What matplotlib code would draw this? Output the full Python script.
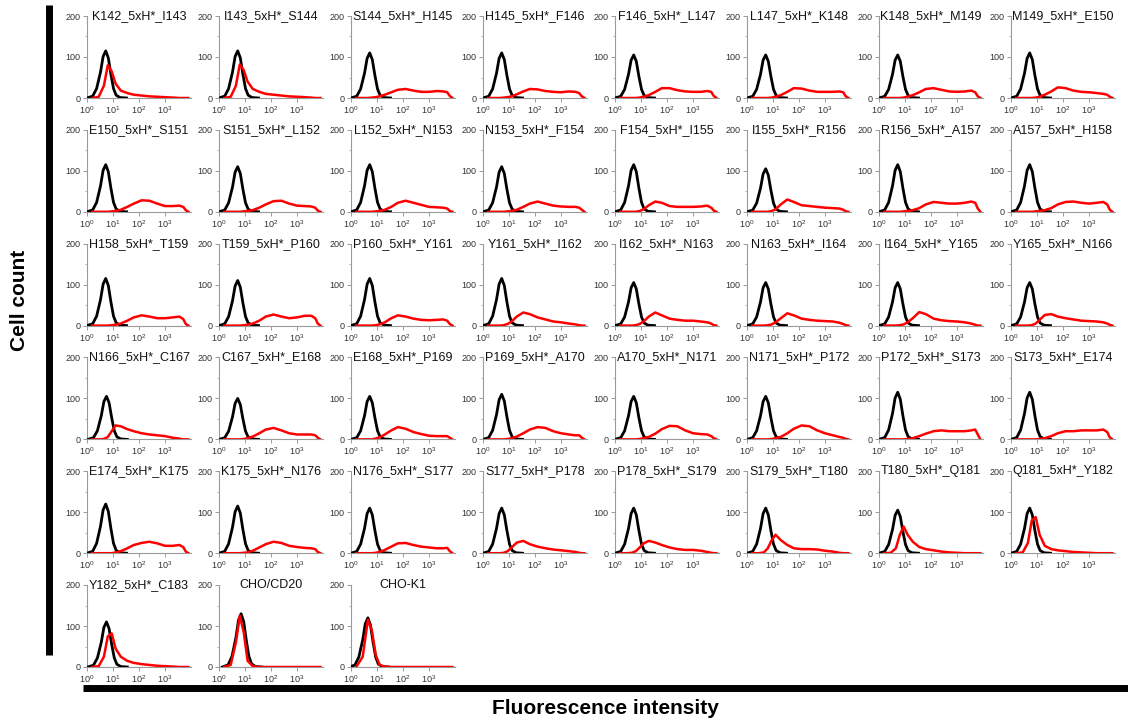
import numpy as np
import matplotlib
matplotlib.use('Agg')
import matplotlib.pyplot as plt
from matplotlib.ticker import FixedLocator, LogLocator, NullFormatter, LogFormatterMathtext
from matplotlib.lines import Line2D

plt.rcParams['font.family'] = ['Liberation Sans', 'DejaVu Sans']

# ten cua tung o (theo thu tu hang, cot)
panel_names = [
    'K142_5xH*_I143', 'I143_5xH*_S144', 'S144_5xH*_H145', 'H145_5xH*_F146',
    'F146_5xH*_L147', 'L147_5xH*_K148', 'K148_5xH*_M149', 'M149_5xH*_E150',
    'E150_5xH*_S151', 'S151_5xH*_L152', 'L152_5xH*_N153', 'N153_5xH*_F154',
    'F154_5xH*_I155', 'I155_5xH*_R156', 'R156_5xH*_A157', 'A157_5xH*_H158',
    'H158_5xH*_T159', 'T159_5xH*_P160', 'P160_5xH*_Y161', 'Y161_5xH*_I162',
    'I162_5xH*_N163', 'N163_5xH*_I164', 'I164_5xH*_Y165', 'Y165_5xH*_N166',
    'N166_5xH*_C167', 'C167_5xH*_E168', 'E168_5xH*_P169', 'P169_5xH*_A170',
    'A170_5xH*_N171', 'N171_5xH*_P172', 'P172_5xH*_S173', 'S173_5xH*_E174',
    'E174_5xH*_K175', 'K175_5xH*_N176', 'N176_5xH*_S177', 'S177_5xH*_P178',
    'P178_5xH*_S179', 'S179_5xH*_T180', 'T180_5xH*_Q181', 'Q181_5xH*_Y182',
    'Y182_5xH*_C183', 'CHO/CD20', 'CHO-K1',
]

# duong den (doi chung): vi tri dinh (log10) va chieu cao dinh
black_pos = [0.72] * 24 + [0.75] + [0.72] * 15 + [0.75, 0.85, 0.65]
black_peak = [115, 115, 110, 110, 105, 105, 105, 110,
              115, 110, 115, 110, 115, 105, 115, 115,
              115, 110, 115, 115, 105, 105, 105, 105,
              105, 100, 105, 110, 105, 105, 115, 115,
              120, 115, 110, 110, 110, 110, 105, 110,
              110, 130, 120]
black_dx = [-0.72, -0.5, -0.35, -0.2, -0.1, 0.0, 0.1, 0.2, 0.3, 0.4, 0.55, 0.8]
black_shape = [0, 0.04, 0.2, 0.55, 0.88, 1.0, 0.85, 0.5, 0.2, 0.06, 0.01, 0]

# duong do (mau): gia tri so te bao tai cac vi tri log10
red_lx = [0.2, 0.45, 0.65, 0.8, 0.95, 1.1, 1.3, 1.55, 1.8, 2.1, 2.4, 2.7, 3.0, 3.3, 3.55, 3.7, 3.8, 3.9]
red_counts = [
    [0, 3, 30, 80, 65, 35, 18, 12, 8, 6, 4, 3, 2, 1, 0, 0, 0, 0],
    [0, 3, 30, 82, 68, 40, 22, 15, 10, 8, 6, 4, 3, 2, 1, 0, 0, 0],
    [0, 0, 0, 1, 2, 4, 8, 14, 20, 22, 18, 15, 15, 17, 16, 14, 5, 0],
    [0, 0, 0, 1, 2, 4, 9, 16, 22, 21, 17, 15, 14, 16, 15, 12, 4, 0],
    [0, 0, 0, 0, 1, 3, 7, 15, 24, 24, 19, 16, 15, 15, 17, 15, 5, 0],
    [0, 0, 0, 0, 1, 3, 7, 15, 24, 23, 18, 15, 15, 15, 16, 14, 4, 0],
    [0, 0, 0, 0, 1, 3, 7, 14, 22, 24, 20, 16, 15, 16, 18, 14, 4, 0],
    [0, 0, 0, 0, 1, 3, 8, 16, 26, 24, 18, 15, 14, 12, 10, 8, 3, 0],
    [0, 0, 0, 0, 1, 2, 5, 12, 20, 28, 27, 20, 14, 14, 15, 12, 4, 0],
    [0, 0, 0, 0, 1, 2, 4, 10, 18, 26, 27, 20, 15, 14, 13, 10, 3, 0],
    [0, 0, 0, 0, 1, 2, 5, 12, 22, 27, 22, 17, 12, 11, 10, 8, 2, 0],
    [0, 0, 0, 0, 1, 2, 5, 12, 20, 25, 20, 15, 13, 12, 12, 10, 5, 0],
    [0, 0, 0, 0, 2, 6, 16, 25, 22, 14, 12, 12, 12, 13, 15, 10, 3, 0],
    [0, 0, 0, 0, 2, 6, 18, 30, 24, 16, 14, 12, 10, 9, 8, 5, 1, 0],
    [0, 0, 0, 0, 1, 2, 4, 9, 18, 24, 22, 20, 20, 22, 25, 22, 8, 0],
    [0, 0, 0, 0, 1, 2, 4, 9, 18, 24, 25, 22, 20, 22, 24, 18, 5, 0],
    [0, 0, 0, 0, 1, 2, 5, 12, 20, 25, 22, 18, 18, 20, 22, 16, 4, 0],
    [0, 0, 0, 0, 1, 2, 5, 12, 22, 27, 22, 18, 20, 24, 24, 18, 5, 0],
    [0, 0, 0, 0, 1, 3, 8, 18, 25, 22, 17, 14, 13, 14, 15, 12, 4, 0],
    [0, 0, 0, 1, 4, 10, 22, 32, 28, 20, 15, 10, 8, 5, 3, 1, 0, 0],
    [0, 0, 0, 1, 4, 10, 22, 32, 25, 17, 14, 12, 12, 10, 8, 5, 1, 0],
    [0, 0, 0, 1, 3, 8, 18, 30, 25, 17, 14, 12, 11, 10, 7, 4, 1, 0],
    [0, 0, 0, 1, 3, 8, 18, 33, 28, 17, 13, 11, 10, 8, 5, 2, 0, 0],
    [0, 0, 0, 1, 5, 14, 26, 28, 22, 18, 15, 12, 11, 10, 8, 5, 2, 0],
    [0, 0, 1, 6, 20, 34, 32, 25, 20, 15, 12, 10, 8, 4, 2, 0, 0, 0],
    [0, 0, 0, 0, 1, 3, 7, 15, 24, 28, 22, 15, 12, 12, 12, 10, 4, 0],
    [0, 0, 0, 0, 2, 5, 12, 22, 30, 26, 18, 13, 9, 8, 8, 8, 4, 0],
    [0, 0, 0, 0, 1, 3, 7, 15, 24, 30, 28, 20, 15, 12, 10, 10, 4, 0],
    [0, 0, 0, 0, 1, 3, 6, 14, 25, 33, 32, 22, 15, 13, 12, 8, 3, 0],
    [0, 0, 0, 0, 1, 3, 6, 15, 26, 34, 32, 22, 15, 10, 6, 4, 1, 0],
    [0, 0, 0, 0, 0, 1, 3, 8, 14, 20, 22, 20, 20, 20, 22, 24, 12, 0],
    [0, 0, 0, 0, 0, 1, 3, 8, 15, 20, 20, 22, 22, 22, 24, 18, 5, 0],
    [0, 0, 0, 0, 0, 2, 5, 12, 20, 25, 28, 24, 18, 18, 20, 15, 4, 0],
    [0, 0, 0, 0, 1, 2, 6, 14, 22, 28, 25, 18, 15, 13, 12, 10, 3, 0],
    [0, 0, 0, 0, 1, 3, 8, 16, 24, 25, 20, 16, 14, 12, 12, 13, 5, 0],
    [0, 0, 0, 1, 5, 14, 26, 30, 22, 16, 12, 9, 7, 5, 3, 1, 0, 0],
    [0, 0, 1, 5, 14, 24, 30, 26, 20, 14, 10, 8, 8, 6, 3, 1, 0, 0],
    [0, 0, 2, 12, 32, 45, 32, 20, 12, 10, 10, 9, 6, 4, 1, 0, 0, 0],
    [0, 1, 12, 45, 65, 45, 28, 15, 10, 7, 4, 2, 1, 0, 0, 0, 0, 0],
    [0, 2, 25, 80, 88, 45, 18, 10, 7, 5, 3, 2, 1, 0, 0, 0, 0, 0],
    [0, 2, 25, 75, 82, 45, 25, 15, 10, 7, 5, 3, 2, 1, 0, 0, 0, 0],
    [0, 5, 60, 125, 85, 15, 2, 0, 0, 0, 0, 0, 0, 0, 0, 0, 0, 0],
    [0, 25, 115, 90, 30, 5, 1, 0, 0, 0, 0, 0, 0, 0, 0, 0, 0, 0],
]

W, H = 1128, 723
fig = plt.figure(figsize=(W / 100, H / 100), dpi=100)

ax_w, ax_h = 104, 82
grid_color = '#9a9a9a'
text_color = '#333333'

for i, name in enumerate(panel_names):
    r, c = divmod(i, 8)
    x0 = 87 + 132 * c
    y0 = 98 + 113.8 * r
    ax = fig.add_axes([x0 / W, 1 - y0 / H, ax_w / W, ax_h / H])

    bx = 10 ** (black_pos[i] + np.array(black_dx))
    by = black_peak[i] * np.array(black_shape)
    ax.plot(bx, by, color='black', lw=2.0, zorder=3)

    rx = 10 ** np.array(red_lx)
    ax.plot(rx, red_counts[i], color='#ff0000', lw=1.8, zorder=4)

    ax.set_xscale('log')
    ax.set_xlim(1, 1e4)
    ax.set_ylim(0, 200)
    ax.xaxis.set_major_locator(FixedLocator([1, 10, 100, 1000]))
    ax.xaxis.set_major_formatter(LogFormatterMathtext())
    ax.xaxis.set_minor_locator(LogLocator(base=10, subs=np.arange(2, 10)))
    ax.xaxis.set_minor_formatter(NullFormatter())
    ax.yaxis.set_major_locator(FixedLocator([0, 100, 200]))
    ax.yaxis.set_minor_locator(FixedLocator([50, 150]))

    for side in ['top', 'right']:
        ax.spines[side].set_visible(False)
    for side in ['left', 'bottom']:
        ax.spines[side].set_color(grid_color)
        ax.spines[side].set_linewidth(0.8)
    ax.tick_params(which='major', length=3, width=0.7, color=grid_color,
                   labelsize=6.5, labelcolor=text_color, pad=1.5)
    ax.tick_params(which='minor', length=1.5, width=0.5, color=grid_color)
    ax.patch.set_alpha(0)

    ax.text(0.5, 1.0, name, transform=ax.transAxes, ha='center', va='center',
            fontsize=9, color='#111111', clip_on=False)

# thanh doc va thanh ngang lon
fig.add_artist(Line2D([48.5 / W, 48.5 / W], [1 - 5 / H, 1 - 655 / H],
                      color='black', lw=5.0, solid_capstyle='butt'))
fig.add_artist(Line2D([83 / W, 1128 / W], [1 - 688 / H, 1 - 688 / H],
                      color='black', lw=5.0, solid_capstyle='butt'))

fig.text(20 / W, 1 - 300 / H, 'Cell count', rotation=90, ha='center', va='center',
         fontsize=15, fontweight='bold')
fig.text(605 / W, 1 - 709 / H, 'Fluorescence intensity', ha='center', va='center',
         fontsize=15, fontweight='bold')

fig.savefig('out.png', dpi=100)
